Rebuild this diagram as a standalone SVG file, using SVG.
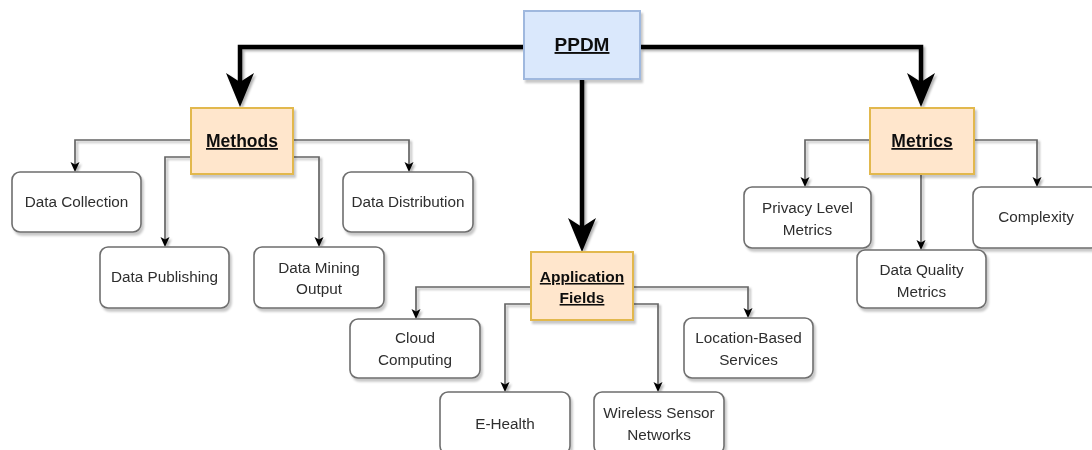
<svg xmlns="http://www.w3.org/2000/svg" width="1092" height="450" viewBox="0 0 1092 450">
<style>
.leaf{fill:#ffffff;stroke:#6e6e6e;stroke-width:1.6}
.cat{fill:#ffe6cc;stroke:#e2b84e;stroke-width:2}
.root{fill:#dae8fc;stroke:#9fb8de;stroke-width:2}
.t{font-family:"Liberation Sans",Arial,sans-serif;font-size:15.3px;fill:#2e2e2e;text-anchor:middle}
.h{font-family:"Liberation Sans",Arial,sans-serif;font-size:17.5px;font-weight:bold;fill:#111111;text-anchor:middle;text-decoration:underline}
.thick{fill:none;stroke:#000000;stroke-width:4.5;marker-end:url(#big)}
.thin{fill:none;stroke:#666666;stroke-width:1.7;marker-end:url(#small)}
</style>
<defs>
<filter id="sh" x="-10%" y="-10%" width="130%" height="140%">
<feDropShadow dx="2" dy="3" stdDeviation="1.2" flood-color="#000000" flood-opacity="0.22"/>
</filter>
<filter id="lsh" x="-10%" y="-10%" width="130%" height="130%">
<feDropShadow dx="2" dy="2" stdDeviation="0.8" flood-color="#000000" flood-opacity="0.3"/>
</filter>
<marker id="big" markerUnits="userSpaceOnUse" viewBox="-10 -15 36 30" markerWidth="36" markerHeight="30" refX="0" refY="0" orient="auto">
<path d="M-9,-14 L25,0 L-9,14 L0,0 Z" fill="#000000"/>
</marker>
<marker id="small" markerUnits="userSpaceOnUse" viewBox="-5 -5 12 10" markerWidth="12" markerHeight="10" refX="0" refY="0" orient="auto">
<path d="M-4,-4.5 L6,0 L-4,4.5 L-1.5,0 Z" fill="#000000"/>
</marker>
</defs>
<rect width="1092" height="450" fill="#ffffff"/>
<g id="connectors" filter="url(#lsh)">
<path class="thick" d="M524,47 H240 V82"/>
<path class="thick" d="M640,47 H921 V82"/>
<path class="thick" d="M582,79 V227"/>
<path class="thin" d="M191,140 H75 V166"/>
<path class="thin" d="M191,157 H165 V241"/>
<path class="thin" d="M293,140 H409 V166"/>
<path class="thin" d="M293,157 H319 V241"/>
<path class="thin" d="M870,140 H805 V181"/>
<path class="thin" d="M974,140 H1037 V181"/>
<path class="thin" d="M921,174 V244"/>
<path class="thin" d="M531,287 H416 V313"/>
<path class="thin" d="M531,304 H505 V386"/>
<path class="thin" d="M633,287 H748 V312"/>
<path class="thin" d="M633,304 H658 V386"/>
</g>
<g id="ppdm" filter="url(#sh)"><rect class="root" x="524" y="11" width="116" height="68"/><text class="h" x="582" y="51" style="font-size:19px">PPDM</text></g>
<g id="methods" filter="url(#sh)"><rect class="cat" x="191" y="108" width="102" height="66"/><text class="h" x="242" y="147">Methods</text></g>
<g id="metrics" filter="url(#sh)"><rect class="cat" x="870" y="108" width="104" height="66"/><text class="h" x="922" y="147">Metrics</text></g>
<g id="appfields" filter="url(#sh)"><rect class="cat" x="531" y="252" width="102" height="68"/><text class="h" x="582" y="282" style="font-size:15.5px">Application</text><text class="h" x="582" y="303" style="font-size:15.5px">Fields</text></g>
<g id="datacollection" filter="url(#sh)"><rect class="leaf" x="12" y="172" width="129" height="60" rx="8"/><text class="t" x="76.5" y="207">Data Collection</text></g>
<g id="datadistribution" filter="url(#sh)"><rect class="leaf" x="343" y="172" width="130" height="60" rx="8"/><text class="t" x="408" y="207">Data Distribution</text></g>
<g id="datapublishing" filter="url(#sh)"><rect class="leaf" x="100" y="247" width="129" height="61" rx="8"/><text class="t" x="164.5" y="282">Data Publishing</text></g>
<g id="dataminingoutput" filter="url(#sh)"><rect class="leaf" x="254" y="247" width="130" height="61" rx="8"/><text class="t" x="319" y="273">Data Mining</text><text class="t" x="319" y="294">Output</text></g>
<g id="privacylevel" filter="url(#sh)"><rect class="leaf" x="744" y="187" width="127" height="61" rx="8"/><text class="t" x="807.5" y="213">Privacy Level</text><text class="t" x="807.5" y="235">Metrics</text></g>
<g id="complexity" filter="url(#sh)"><rect class="leaf" x="973" y="187" width="126" height="61" rx="8"/><text class="t" x="1036" y="222">Complexity</text></g>
<g id="dataquality" filter="url(#sh)"><rect class="leaf" x="857" y="250" width="129" height="58" rx="8"/><text class="t" x="921.5" y="275">Data Quality</text><text class="t" x="921.5" y="297">Metrics</text></g>
<g id="cloud" filter="url(#sh)"><rect class="leaf" x="350" y="319" width="130" height="59" rx="8"/><text class="t" x="415" y="343">Cloud</text><text class="t" x="415" y="365">Computing</text></g>
<g id="location" filter="url(#sh)"><rect class="leaf" x="684" y="318" width="129" height="60" rx="8"/><text class="t" x="748.5" y="343">Location-Based</text><text class="t" x="748.5" y="365">Services</text></g>
<g id="ehealth" filter="url(#sh)"><rect class="leaf" x="440" y="392" width="130" height="62" rx="8"/><text class="t" x="505" y="429">E-Health</text></g>
<g id="wsn" filter="url(#sh)"><rect class="leaf" x="594" y="392" width="130" height="62" rx="8"/><text class="t" x="659" y="418">Wireless Sensor</text><text class="t" x="659" y="440">Networks</text></g>
</svg>
